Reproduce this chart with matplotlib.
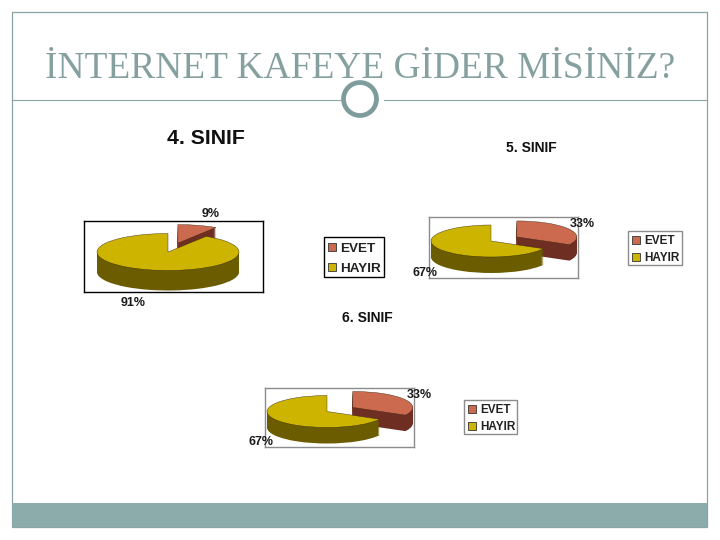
# -*- coding: utf-8 -*-
"""
İnternet kafe anketi: 4., 5. ve 6. sınıf için üç boyutlu görünümlü pasta grafikleri
"""
import matplotlib
matplotlib.use("Agg")
import matplotlib.pyplot as plt
from matplotlib.patches import Ellipse, Rectangle

W, H = 720, 540

categories = ["EVET", "HAYIR"]
sinif_4 = [9, 91]
sinif_5 = [33, 67]
sinif_6 = [33, 67]
chart_titles = ["4. SINIF", "5. SINIF", "6. SINIF"]
main_title = "İNTERNET KAFEYE GİDER MİSİNİZ?"

TOP_COLORS = ['#cc6a50', '#ccb400']
SIDE_COLORS = ['#6e2f22', '#6b5c00']
FRAME = '#8aa3a3'
SANS = 'Liberation Sans'

fig = plt.figure(figsize=(W / 100, H / 100), dpi=100, facecolor='white')

# tüm sayfa için piksel koordinatlı eksen (pastaların üstünde, şeffaf)
bg = fig.add_axes([0, 0, 1, 1], zorder=3)
bg.set_xlim(0, W)
bg.set_ylim(H, 0)
bg.axis('off')

# -------------------- slayt çerçevesi --------------------
bg.add_patch(Rectangle((12, 12), 695, 515, fill=False, ec=FRAME, lw=0.9))
bg.add_patch(Rectangle((12, 503), 695, 24, fc='#8cabab', ec='none'))
bg.plot([12, 340], [100, 100], color=FRAME, lw=0.8)
bg.plot([384, 707], [100, 100], color=FRAME, lw=0.8)
bg.add_patch(Ellipse((360, 99), 33, 33, fill=False, ec='#7f9c9c', lw=3.4))
bg.text(360, 78, main_title, family='Liberation Serif', fontsize=26.9,
        color='#86a0a0', ha='center', va='baseline')


def draw_pie(values, title, box, center, rx, ry, depth, edge, title_xy, title_size,
             label_xy, legend_box, legend_size):
    left, top, right, bottom = box
    ax = fig.add_axes([left / W, 1 - bottom / H, (right - left) / W, (bottom - top) / H],
                      zorder=2)
    explode = [0.5, 0]
    # yan yüzey: koyu renkli pastalar üst üste
    for d in range(depth, 0, -1):
        ax.pie(values, explode=explode, colors=SIDE_COLORS, startangle=90, counterclock=False,
               center=(0, -d / ry), wedgeprops={'linewidth': 0})
    # üst yüzey
    ax.pie(values, explode=explode, colors=TOP_COLORS, startangle=90, counterclock=False,
           wedgeprops={'linewidth': 0.3, 'edgecolor': '#3a2a10'})
    ax.set_aspect('auto')
    ax.set_xlim((left - center[0]) / rx, (right - center[0]) / rx)
    ax.set_ylim((center[1] - bottom) / ry, (center[1] - top) / ry)
    ax.set_frame_on(True)
    for s in ax.spines.values():
        s.set_color(edge)
        s.set_linewidth(1)

    bg.text(title_xy[0], title_xy[1] + 1, title, family=SANS, fontweight='bold',
            fontsize=title_size, color='#111111', ha='center', va='center')
    for v, (x, y) in zip(values, label_xy):
        bg.text(x, y + 1, f"{v}%", family=SANS, fontweight='bold', fontsize=9,
                color='#1a1a1a', ha='center', va='center')

    # lejant
    lx0, ly0, lx1, ly1 = legend_box
    bg.add_patch(Rectangle((lx0, ly0), lx1 - lx0, ly1 - ly0, fc='white', ec=edge, lw=1))
    row = (ly1 - ly0) / 2
    for i, cat in enumerate(categories):
        yc = ly0 + row * (i + 0.5)
        bg.add_patch(Rectangle((lx0 + 4, yc - 4), 8, 8, fc=TOP_COLORS[i], ec='#333333', lw=0.6))
        bg.text(lx0 + 16, yc + 1.5, cat, family=SANS, fontweight='bold', fontsize=legend_size,
                color='#222222', ha='left', va='center')


draw_pie(sinif_4, chart_titles[0], (84, 221, 263, 292), (168, 252), 71, 18.5, 20, '#000000',
         (206, 138), 15.3, [(211, 213), (133, 302)], (324, 237, 384, 277), 9.7)
draw_pie(sinif_5, chart_titles[1], (429, 217, 578, 278), (491, 241), 60, 16, 16, '#8c8c8c',
         (531, 147), 10, [(582, 223), (425, 272)], (628, 231, 682, 265), 8.5)
draw_pie(sinif_6, chart_titles[2], (265, 388, 414, 447), (327, 411.5), 60, 16, 16, '#8c8c8c',
         (367, 317), 10, [(419, 394), (261, 441)], (464, 400, 517, 434), 8.5)

plt.savefig("out.png", dpi=100)
